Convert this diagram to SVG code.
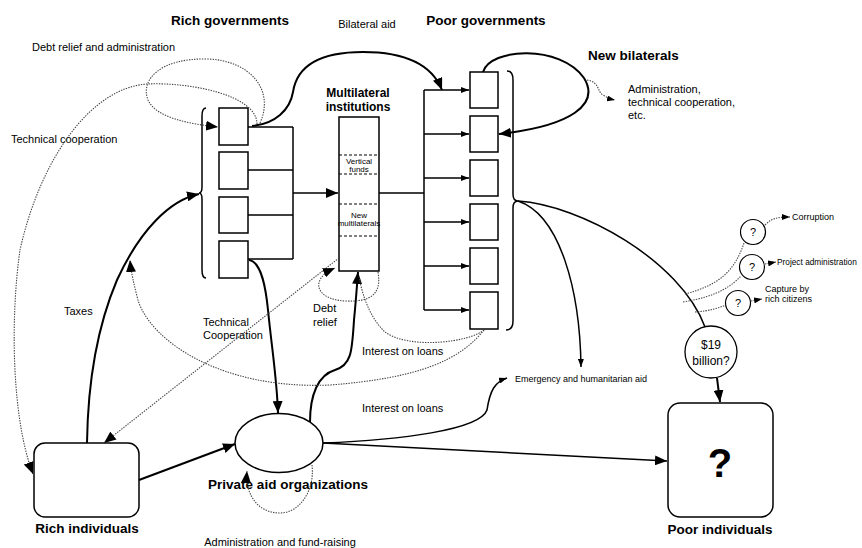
<svg xmlns="http://www.w3.org/2000/svg" width="862" height="548" viewBox="0 0 862 548">
<defs>
<style>
text{font-family:"Liberation Sans",Arial,sans-serif;fill:#000}
.t{font-size:11px}
.b{font-weight:bold;font-size:13.5px}
.sm{font-size:8px}
.box{fill:#fff;stroke:#000;stroke-width:1.5}
.ln{fill:none;stroke:#000;stroke-width:1.5}
.bd{fill:none;stroke:#000;stroke-width:2}
.dt{fill:none;stroke:#444;stroke-width:1.1;stroke-dasharray:1.4 1.2}
.dsh{stroke:#000;stroke-width:1;stroke-dasharray:3 2}
</style>
<marker id="ab" viewBox="0 0 12 10" refX="12" refY="5" markerWidth="12" markerHeight="10" orient="auto" markerUnits="userSpaceOnUse"><path d="M0,0 L12,5 L0,10 z" fill="#000"/></marker>
<marker id="as" viewBox="0 0 8 6" refX="8" refY="3" markerWidth="8" markerHeight="6" orient="auto" markerUnits="userSpaceOnUse"><path d="M0,0 L8,3 L0,6 z" fill="#000"/></marker>
</defs>
<rect width="862" height="548" fill="#fff"/>

<g id="labels">
<text class="b" x="230" y="25" text-anchor="middle">Rich governments</text>
<text class="b" x="486" y="25" text-anchor="middle">Poor governments</text>
<text class="t" x="367" y="28" text-anchor="middle">Bilateral aid</text>
<text class="t" x="32" y="51">Debt relief and administration</text>
<text class="t" x="11" y="143">Technical cooperation</text>
<text class="b" x="588" y="60">New bilaterals</text>
<text class="t" x="628" y="93">Administration,</text>
<text class="t" x="628" y="106">technical cooperation,</text>
<text class="t" x="628" y="119">etc.</text>
<text class="t" x="64" y="315">Taxes</text>
<text class="t" x="203" y="326">Technical</text>
<text class="t" x="203" y="339">Cooperation</text>
<text class="t" x="313" y="312">Debt</text>
<text class="t" x="313" y="326">relief</text>
<text class="t" x="362" y="355">Interest on loans</text>
<text class="t" x="362" y="412">Interest on loans</text>
<text x="515" y="382" style="font-size:9px">Emergency and humanitarian aid</text>
<text x="792" y="220" style="font-size:9px">Corruption</text>
<text x="777" y="265" style="font-size:8.3px">Project administration</text>
<text x="765" y="292" style="font-size:9px">Capture by</text>
<text x="765" y="302" style="font-size:9px">rich citizens</text>
<text class="t" x="280" y="546" text-anchor="middle">Administration and fund-raising</text>
</g>

<g id="rich-governments">
<rect class="box" x="219" y="108" width="29" height="37"/>
<rect class="box" x="219" y="152" width="29" height="37"/>
<rect class="box" x="219" y="197" width="29" height="36"/>
<rect class="box" x="219" y="241" width="29" height="37"/>
<path class="ln" d="M206,108 Q202,108 202,116 L202,187 Q202,193 199,193 Q202,193 202,199 L202,270 Q202,278 206,278"/>
</g>

<g id="multilateral">
<text class="b" x="358" y="97" text-anchor="middle" style="font-size:12px">Multilateral</text>
<text class="b" x="358" y="111" text-anchor="middle" style="font-size:12px">institutions</text>
<rect class="box" x="339" y="117" width="40" height="154"/>
<line class="dsh" x1="339" y1="155" x2="379" y2="155"/>
<line class="dsh" x1="339" y1="174" x2="379" y2="174"/>
<line class="dsh" x1="339" y1="204" x2="379" y2="204"/>
<line class="dsh" x1="339" y1="236" x2="379" y2="236"/>
<text class="sm" x="359" y="164" text-anchor="middle">Vertical</text>
<text class="sm" x="359" y="172" text-anchor="middle">funds</text>
<text class="sm" x="359" y="218" text-anchor="middle">New</text>
<text class="sm" x="359" y="226" text-anchor="middle">multilaterals</text>
</g>

<g id="poor-governments">
<rect class="box" x="470" y="72" width="28" height="36"/>
<rect class="box" x="470" y="116" width="28" height="36"/>
<rect class="box" x="470" y="160" width="28" height="36"/>
<rect class="box" x="470" y="204" width="28" height="36"/>
<rect class="box" x="470" y="248" width="28" height="36"/>
<rect class="box" x="470" y="292" width="28" height="37"/>
<path class="ln" d="M507,71 Q513,71 513,80 L513,194 Q513,201 518,201 Q513,201 513,208 L513,321 Q513,330 506,330"/>
</g>

<g id="question-circles">
<circle cx="753" cy="232" r="12.5" fill="#fff" stroke="#000" stroke-width="1.2"/>
<text x="753" y="236" text-anchor="middle" style="font-size:11px">?</text>
<circle cx="752" cy="267" r="12.5" fill="#fff" stroke="#000" stroke-width="1.2"/>
<text x="752" y="271" text-anchor="middle" style="font-size:11px">?</text>
<circle cx="738" cy="303" r="12.5" fill="#fff" stroke="#000" stroke-width="1.2"/>
<text x="738" y="307" text-anchor="middle" style="font-size:11px">?</text>
</g>

<g id="billion">
<circle cx="711" cy="352" r="26" fill="#fff" stroke="#000" stroke-width="1.3"/>
<text x="711" y="349" text-anchor="middle" style="font-size:12px">$19</text>
<text x="711" y="365" text-anchor="middle" style="font-size:12px">billion?</text>
</g>

<g id="rich-individuals">
<rect class="box" x="34" y="443" width="105" height="74" rx="11"/>
<text class="b" x="87" y="533" text-anchor="middle">Rich individuals</text>
</g>

<g id="private-aid">
<ellipse cx="279" cy="443" rx="44" ry="29.5" fill="#fff" stroke="#000" stroke-width="1.5"/>
<text class="b" x="288" y="489" text-anchor="middle">Private aid organizations</text>
</g>

<g id="poor-individuals">
<rect class="box" x="668" y="403" width="105" height="114" rx="12"/>
<text x="720" y="477" text-anchor="middle" style="font-size:40px;font-weight:bold">?</text>
<text class="b" x="720" y="534" text-anchor="middle">Poor individuals</text>
</g>

<g id="connectors">
<path class="ln" d="M248,127 H293 M248,170 H293 M248,215 H293 M248,259 H293 M293,127 V259"/>
<line class="ln" x1="293" y1="193" x2="338" y2="193" marker-end="url(#ab)"/>
<path class="ln" d="M379,193 H424 M424,90 V310"/>
<line class="ln" x1="424" y1="90" x2="469" y2="90" marker-end="url(#as)"/>
<line class="ln" x1="424" y1="134" x2="469" y2="134" marker-end="url(#as)"/>
<line class="ln" x1="424" y1="178" x2="469" y2="178" marker-end="url(#as)"/>
<line class="ln" x1="424" y1="222" x2="469" y2="222" marker-end="url(#as)"/>
<line class="ln" x1="424" y1="266" x2="469" y2="266" marker-end="url(#as)"/>
<line class="ln" x1="424" y1="310" x2="469" y2="310" marker-end="url(#as)"/>
<path class="bd" d="M252,126 C275,124 290,110 293,92 C297,66 320,52 363,52 C405,52 432,65 442,90" marker-end="url(#ab)"/>
<path class="bd" d="M483,72 C490,48 560,44 584,78 C600,104 572,126 499,134" marker-end="url(#ab)"/>
<path class="dt" d="M587,80 C600,82 597,92 603,95 C608,98 610,99 615,100" marker-end="url(#as)"/>
<path class="dt" d="M260,123 C275,90 250,60 207,59 C160,58 140,80 148,100 C156,118 190,124 218,127" marker-end="url(#ab)"/>
<path class="dt" d="M257,124 C257,95 190,82 147,84 C90,88 40,160 20,250 C10,320 12,420 33,474" marker-end="url(#ab)"/>
<path class="bd" d="M87,443 C88,370 100,320 117,280 C140,230 170,200 199,194" marker-end="url(#ab)"/>
<line class="bd" x1="139" y1="480" x2="235" y2="444" marker-end="url(#ab)"/>
<path class="bd" d="M249,260 C262,262 266,290 268,310 C272,350 277,380 278,413" marker-end="url(#ab)"/>
<path class="bd" d="M310,422 C310,395 318,375 335,370 C352,365 352,350 354,320 C356,300 357,285 358,272" marker-end="url(#ab)"/>
<line class="dt" x1="339" y1="258" x2="104" y2="443" marker-end="url(#ab)"/>
<path class="dt" d="M378,272 C382,295 370,302 345,301 C325,300 315,290 320,280 C323,274 328,271 335,268" marker-end="url(#ab)"/>
<path class="dt" d="M484,330 C470,342 410,350 385,332 C370,318 362,295 359,276"/>
<path class="dt" d="M484,330 C460,360 420,378 330,385 C220,390 150,340 138,300 C134,285 131,272 130,260" marker-end="url(#ab)"/>
<path class="dt" d="M312,465 C315,490 300,513 280,513 C258,513 245,495 247,471" marker-end="url(#ab)"/>
<line class="ln" x1="323" y1="443" x2="667" y2="461" marker-end="url(#ab)"/>
<path class="ln" d="M323,443 C400,440 480,430 487,410 C490,390 495,382 507,378" marker-end="url(#as)"/>
<path class="ln" d="M518,201 C560,215 580,290 581,367" marker-end="url(#as)"/>
<path class="ln" d="M518,201 C580,205 680,260 705,327"/>
<line class="bd" x1="717" y1="378" x2="720" y2="402" marker-end="url(#ab)"/>
<path class="dt" d="M685,294 C720,285 735,270 744,243"/>
<path class="dt" d="M683,302 C720,296 732,285 741,276"/>
<path class="dt" d="M695,312 C710,311 718,308 726,305"/>
<path class="dt" d="M765,225 C772,218 778,217 790,217" marker-end="url(#as)"/>
<path class="dt" d="M765,264 L776,262" marker-end="url(#as)"/>
<path class="dt" d="M751,301 L762,299" marker-end="url(#as)"/>
</g>
</svg>
